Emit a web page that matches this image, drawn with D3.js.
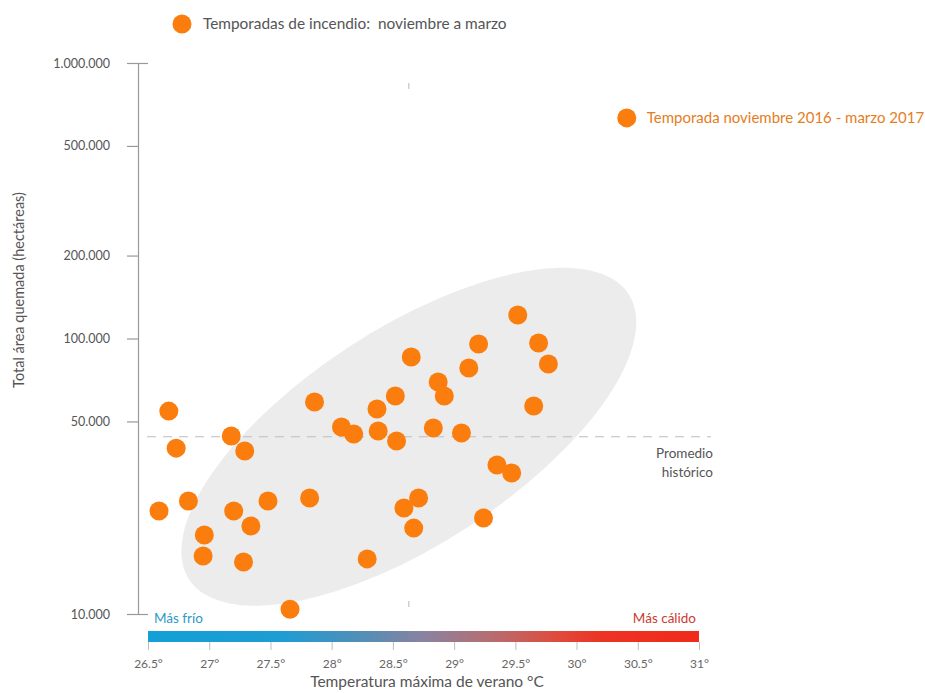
<!DOCTYPE html>
<html>
<head>
<meta charset="utf-8">
<script src="https://cdn.jsdelivr.net/npm/d3@7"></script>
<style>
  html, body { margin: 0; padding: 0; background: #fff; }
  svg { display: block; font-family: Lato, "Open Sans", sans-serif; }
  text { white-space: pre; }
</style>
</head>
<body>
<svg id="chart" width="925" height="693"></svg>
<script>
// Fire seasons (November to March): summer max temperature (°C) vs burned area (ha)
const seasonTemps = [
  26.67, 26.73, 26.59, 26.83, 26.96, 26.95, 27.18, 27.20, 27.29, 27.34,
  27.28, 27.48, 27.66, 27.82, 27.86, 28.08, 28.18, 28.29, 28.37, 28.38,
  28.52, 28.53, 28.59, 28.65, 28.71, 28.67, 28.83, 28.87, 28.92, 29.06,
  29.12, 29.20, 29.35, 29.24, 29.47, 29.52, 29.69, 29.65, 29.77
];
const seasonAreas = [
  54500, 40000, 23650, 25700, 19350, 16250, 44300, 23650, 39050, 20850,
  15450, 25700, 10400, 26350, 58800, 47700, 45000, 15850, 55500, 46150,
  61850, 42450, 24250, 85700, 26350, 20500, 47300, 69500, 61850, 45400,
  78100, 95500, 34750, 22300, 32500, 121700, 96300, 56900, 80800
];

// Highlighted season 2016-2017
const highlightTemp = [30.41];
const highlightArea = [632000];
const highlightLabel = ["Temporada noviembre 2016 - marzo 2017"];

// Historical averages
const avgTemp = 28.63;
const avgArea = 44000;

// Axis ticks
const yTickValues = [10000, 50000, 100000, 200000, 500000, 1000000];
const xTickValues = [26.5, 27, 27.5, 28, 28.5, 29, 29.5, 30, 30.5, 31];

const legendLabel = ["Temporadas de incendio:  noviembre a marzo"];

const ORANGE = "#fa7d0e";
const FONT = "Lato, 'Open Sans', sans-serif";
const svg = d3.select("#chart");

const x = d3.scaleLinear().domain([26.5, 31]).range([148, 699]);
const y = d3.scaleLog().domain([10000, 1000000]).range([614, 63]);

const esLocale = d3.formatLocale({ decimal: ",", thousands: ".", grouping: [3], currency: ["", ""] });
const fmtThousands = esLocale.format(",");

// Confidence ellipse around the averages
const ecx = x(avgTemp), ecy = y(avgArea);
svg.append("ellipse")
  .attr("cx", ecx).attr("cy", ecy)
  .attr("rx", 262).attr("ry", 108)
  .attr("transform", `rotate(-33, ${ecx}, ${ecy})`)
  .attr("fill", "#ececec");

// Faint markers for the average temperature
[[83, 89], [601, 607]].forEach(([a, b]) => {
  svg.append("line")
    .attr("x1", ecx).attr("x2", ecx).attr("y1", a).attr("y2", b)
    .attr("stroke", "#c4c4c4").attr("stroke-width", 1.2);
});

// Historical average line
svg.append("line")
  .attr("x1", 147).attr("x2", 711)
  .attr("y1", y(avgArea)).attr("y2", y(avgArea))
  .attr("stroke", "#bdbdbd").attr("stroke-width", 1.2)
  .attr("stroke-dasharray", "9,7");

svg.append("text")
  .attr("x", 713).attr("y", y(avgArea) + 21)
  .attr("text-anchor", "end")
  .attr("font-size", 13.5).attr("fill", "#555")
  .text("Promedio");
svg.append("text")
  .attr("x", 713).attr("y", y(avgArea) + 40)
  .attr("text-anchor", "end")
  .attr("font-size", 13.5).attr("fill", "#555")
  .text("histórico");

// Y axis
const yAxis = d3.axisLeft(y)
  .tickValues(yTickValues)
  .tickFormat(fmtThousands)
  .tickSize(11)
  .tickPadding(17);
const gy = svg.append("g").attr("transform", "translate(138,0)").call(yAxis);
gy.select(".domain").attr("stroke", "#999").attr("stroke-width", 1.2);
gy.selectAll(".tick line").attr("stroke", "#999").attr("stroke-width", 1.2);
gy.selectAll(".tick")
  .filter(d => d === 1000000 || d === 10000)
  .select("line").attr("x2", -11).attr("x1", 10);
gy.selectAll(".tick text")
  .attr("font-family", FONT)
  .attr("font-size", 12.5).attr("fill", "#555");

svg.append("text")
  .attr("transform", `translate(24, ${y(150000)}) rotate(-90)`)
  .attr("text-anchor", "middle")
  .attr("font-size", 14.5).attr("fill", "#555")
  .text("Total área quemada (hectáreas)");

// Colour bar (cold to warm)
const defs = svg.append("defs");
const grad = defs.append("linearGradient").attr("id", "tempGrad")
  .attr("x1", "0%").attr("x2", "100%").attr("y1", "0%").attr("y2", "0%");
[
  [0, "#139fd7"], [0.24, "#1d9dd4"], [0.38, "#4f8fb8"], [0.5, "#8a82a0"],
  [0.62, "#b56e72"], [0.74, "#de4c3e"], [0.82, "#ec3424"], [1, "#f02a1d"]
].forEach(([o, c]) => grad.append("stop").attr("offset", o).attr("stop-color", c));

svg.append("rect")
  .attr("x", x(26.5)).attr("y", 631)
  .attr("width", x(31) - x(26.5)).attr("height", 11)
  .attr("fill", "url(#tempGrad)");

const xAxis = d3.axisBottom(x)
  .tickValues(xTickValues)
  .tickFormat(d => d + "°")
  .tickSize(8)
  .tickPadding(9);
const gx = svg.append("g").attr("transform", "translate(0,642)").call(xAxis);
gx.select(".domain").remove();
gx.selectAll(".tick line").attr("stroke", "#bdbdbd").attr("stroke-width", 1);
gx.selectAll(".tick text")
  .attr("font-family", FONT)
  .attr("font-size", 12).attr("fill", "#666");

svg.append("text")
  .attr("x", 427).attr("y", 687)
  .attr("text-anchor", "middle")
  .attr("font-size", 15.5).attr("fill", "#555")
  .text("Temperatura máxima de verano °C");

svg.append("text")
  .attr("x", 154).attr("y", 623)
  .attr("font-size", 13.5).attr("fill", "#2a9bc8")
  .text("Más frío");
svg.append("text")
  .attr("x", 696).attr("y", 623)
  .attr("text-anchor", "end")
  .attr("font-size", 13.5).attr("fill", "#cc3b31")
  .text("Más cálido");

// Season dots
const seasons = seasonTemps.map((t, i) => ({ t, a: seasonAreas[i] }));
svg.append("g").selectAll("circle")
  .data(seasons).join("circle")
  .attr("cx", d => x(d.t)).attr("cy", d => y(d.a))
  .attr("r", 9.5).attr("fill", ORANGE);

// Highlighted season
const hl = highlightTemp.map((t, i) => ({ t, a: highlightArea[i], label: highlightLabel[i] }));
const hg = svg.append("g").selectAll("g").data(hl).join("g");
hg.append("circle")
  .attr("cx", d => x(d.t)).attr("cy", d => y(d.a))
  .attr("r", 9.5).attr("fill", ORANGE);
hg.append("text")
  .attr("x", d => x(d.t) + 20).attr("y", d => y(d.a) + 5)
  .attr("font-size", 15).attr("fill", "#e57d1c")
  .text(d => d.label);

// Legend
const lg = svg.append("g");
lg.append("circle").attr("cx", 182).attr("cy", 24).attr("r", 9.5).attr("fill", ORANGE);
lg.append("text").attr("x", 203).attr("y", 29)
  .attr("font-size", 15.4).attr("fill", "#555")
  .text(legendLabel[0]);
</script>
</body>
</html>
